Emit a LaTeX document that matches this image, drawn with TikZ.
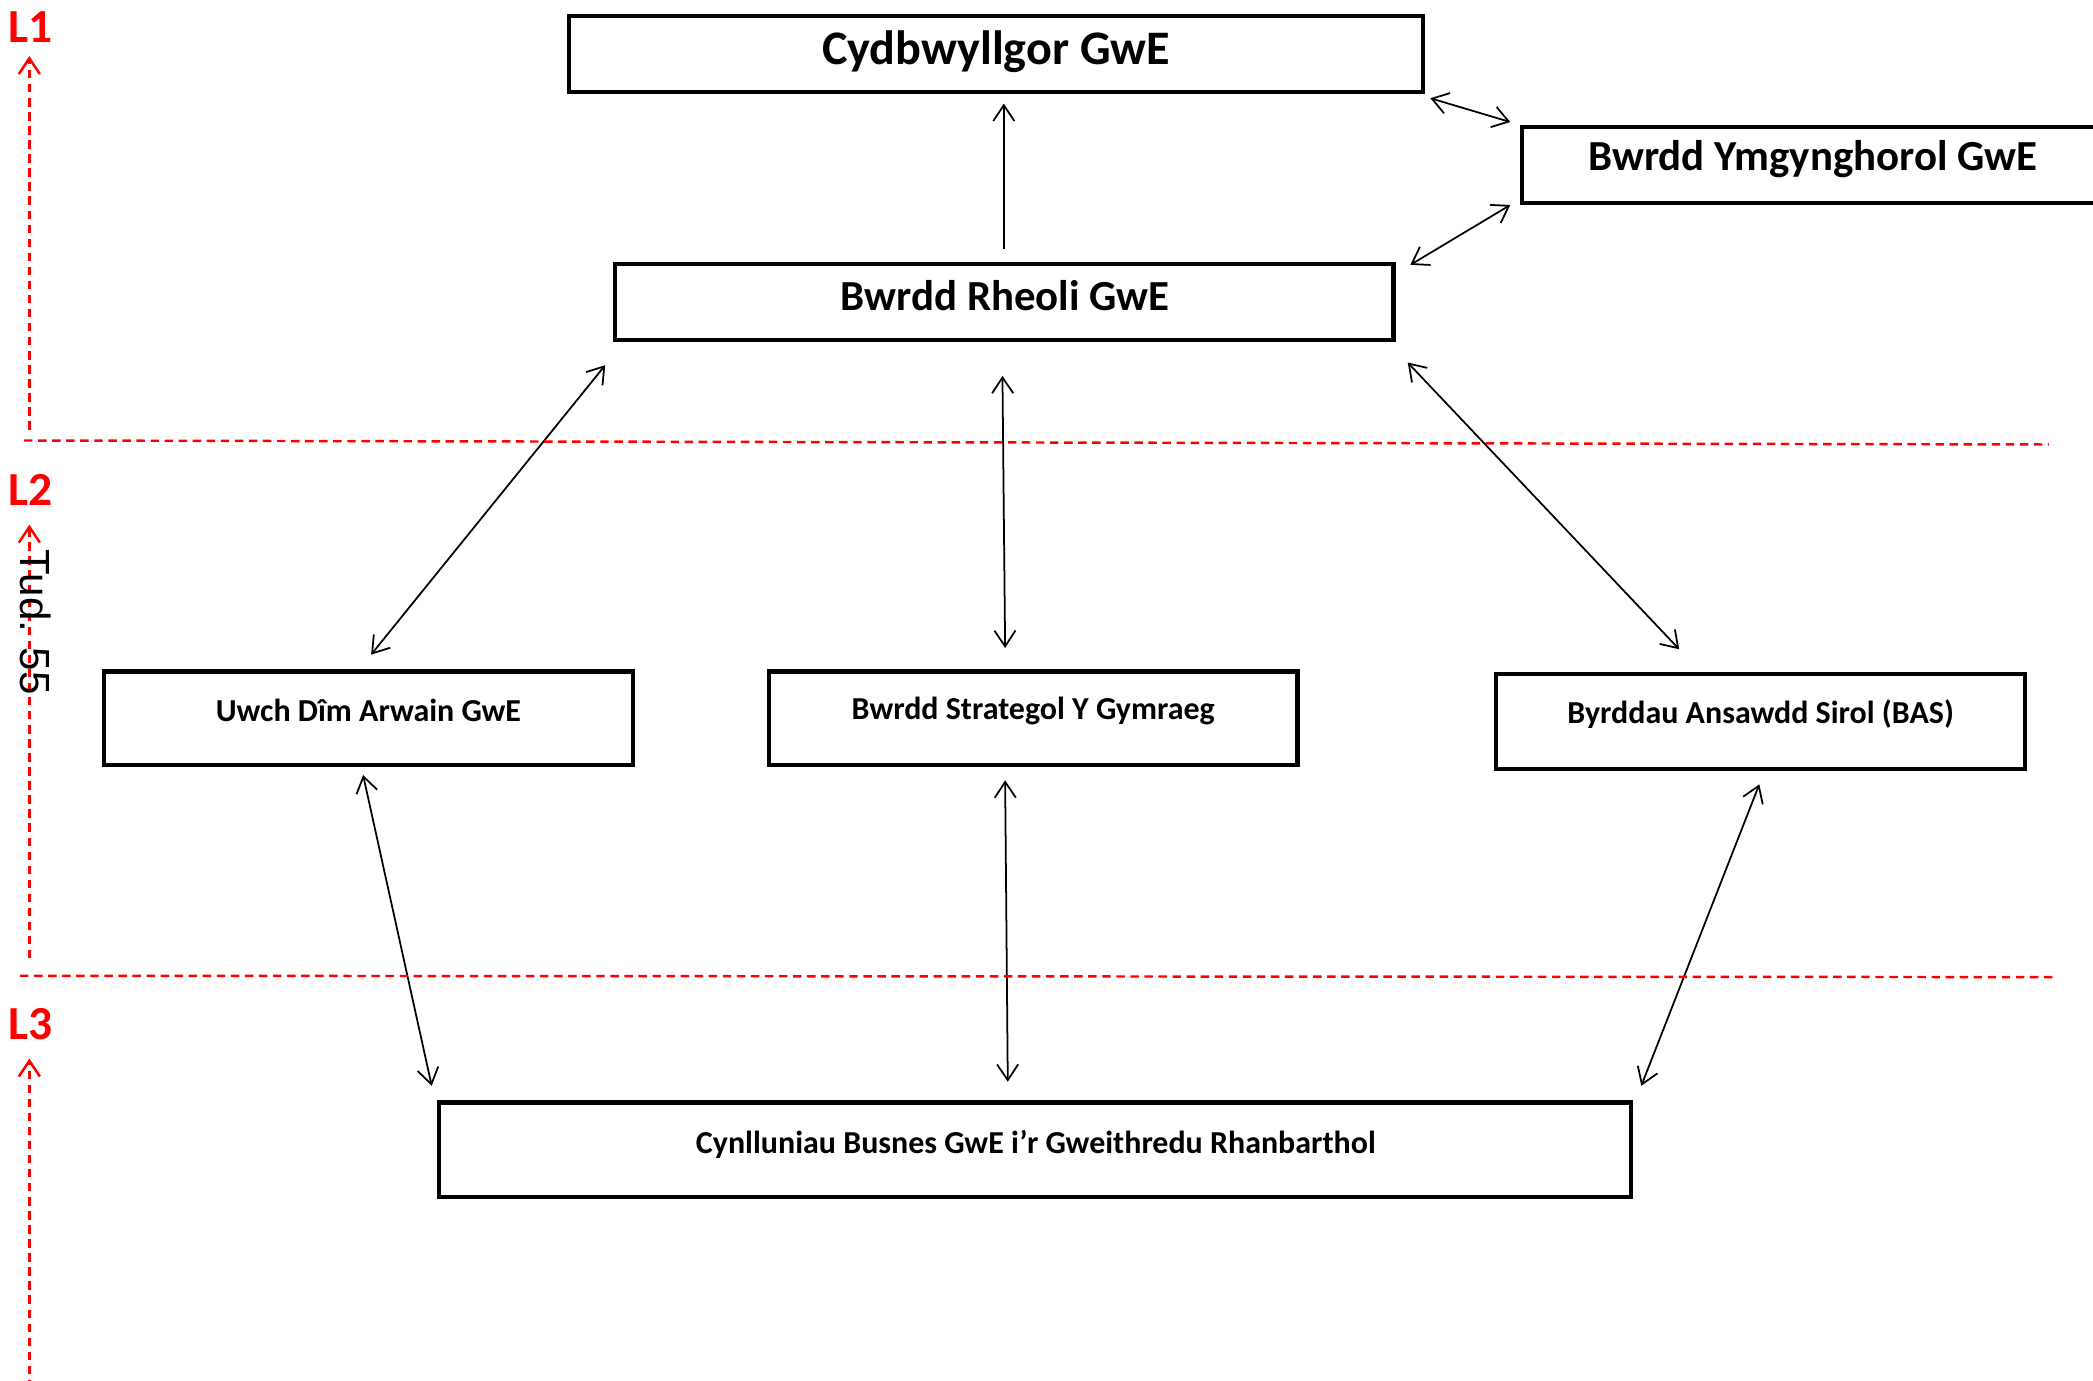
\documentclass[tikz,border=0pt]{standalone}
\usepackage{fontspec}
\setmainfont{Carlito}
\newfontfamily\arialf{Liberation Sans}
\usetikzlibrary{arrows.meta,calc}
\def\pu{0.013348cm}
\tikzset{
  box/.style={draw, line width=1.2pt, inner sep=0pt, fill=white},
  bigtxt/.style={font=\fontsize{13.7}{16}\selectfont\bfseries, inner sep=0pt},
  midtxt/.style={font=\fontsize{12.2}{14}\selectfont\bfseries, inner sep=0pt},
  smalltxt/.style={font=\fontsize{9.1}{11}\selectfont\bfseries, inner sep=0pt},
  arr/.style={line width=0.5pt, -{Straight Barb[length=4.5pt,width=6pt]}},
  darr/.style={line width=0.5pt, {Straight Barb[length=4.5pt,width=6pt]}-{Straight Barb[length=4.5pt,width=6pt]}},
  redline/.style={red, line width=0.7pt, dash pattern=on 2.4pt off 1.6pt},
  redarr/.style={redline, -{Straight Barb[length=4.5pt,width=6pt]}},
  lvl/.style={text=red, font=\fontsize{13.5}{16}\selectfont\bfseries, inner sep=0pt}
}
\begin{document}
\begin{tikzpicture}[x=0.013348cm, y=-0.013348cm]
\clip (0,0) rectangle (1568,1034);
\fill[white] (0,0) rectangle (1568,1034);

% boxes
\node[box, minimum width=640*\pu, minimum height=57*\pu] (cyd) at (746,40.5) {};
\node[bigtxt] (cydt) at (746,38.5) {Cydbwyllgor GwE};

\node[box, minimum width=436*\pu, minimum height=57*\pu] (ymg) at (1358,123.5) {};
\node[midtxt] (ymgt) at (1358,119) {Bwrdd Ymgynghorol GwE};

\node[box, minimum width=583*\pu, minimum height=57*\pu] (rhe) at (752.5,226.5) {};
\node[midtxt] (rhet) at (753,221.5) {Bwrdd Rheoli GwE};

\node[box, minimum width=396*\pu, minimum height=70*\pu] (uwch) at (276,538) {};
\node[smalltxt] (uwcht) at (276,532.5) {Uwch Dîm Arwain GwE};

\node[box, minimum width=396*\pu, minimum height=70*\pu] (strat) at (774,538) {};
\node[smalltxt] (stratt) at (774,533) {Bwrdd Strategol Y Gymraeg};

\node[box, minimum width=396*\pu, minimum height=71*\pu] (bas) at (1319,540.5) {};
\node[smalltxt] (bast) at (1319,535) {Byrddau Ansawdd Sirol (BAS)};

\node[box, minimum width=893*\pu, minimum height=71*\pu] (cyn) at (775.5,861.5) {};
\node[smalltxt] (cynt) at (776,857) {Cynlluniau Busnes GwE i’r Gweithredu Rhanbarthol};

% connectors
\draw[arr] ($(rhe.north)+(-0.5,-10)$) -- ($(rhe.north |- cyd.south)+(-0.5,7)$);
\draw[darr] ($(cyd.south east)+(4,3)$) -- ($(ymg.north west)+(-7,-2)$);
\draw[darr] ($(rhe.north east)+(11,2)$) -- ($(ymg.south west)+(-7,0)$);
\draw[darr] ($(rhe.south west)+(-6,17)$) -- ($(uwch.north)+(2,-11)$);
\draw[darr] ($(rhe.south)+(-1.5,25)$) -- ($(strat.north)+(-21,-16)$);
\draw[darr] ($(rhe.south east)+(9,15)$) -- ($(bas.north)+(-61,-17)$);
\draw[darr] ($(uwch.south)+(-4,6)$) -- ($(cyn.north west)+(-4,-11)$);
\draw[darr] ($(strat.south)+(-21,10)$) -- ($(cyn.north)+(-20.5,-14)$);
\draw[darr] ($(bas.south)+(-1,10)$) -- ($(cyn.north east)+(6,-11)$);

% level markers
\coordinate (h1a) at (18,330);
\coordinate (h1b) at (1535,333);
\coordinate (h2a) at (15,731);
\coordinate (h2b) at (1540,732);
\draw[redline] (h1a) -- (h1b);
\draw[redline] (h2a) -- (h2b);

\coordinate (v1s) at (22,322);
\coordinate (v1e) at (22,42);
\coordinate (v2s) at (22,718);
\coordinate (v2e) at (22,393);
\coordinate (v3s) at (22,1040);
\coordinate (v3e) at (22,793);
\draw[redarr] (v1s) -- (v1e);
\draw[redarr] (v2s) -- (v2e);
\draw[redarr] (v3s) -- (v3e);

\node[lvl] (l1) at (23,20) {L1};
\node[lvl] (l2) at (23,367) {L2};
\node[lvl] (l3) at (23,767) {L3};

\node[font=\arialf\fontsize{12}{14}\selectfont, rotate=-90, inner sep=0pt] (tud) at (27,466) {Tud. 55};
\end{tikzpicture}
\end{document}
